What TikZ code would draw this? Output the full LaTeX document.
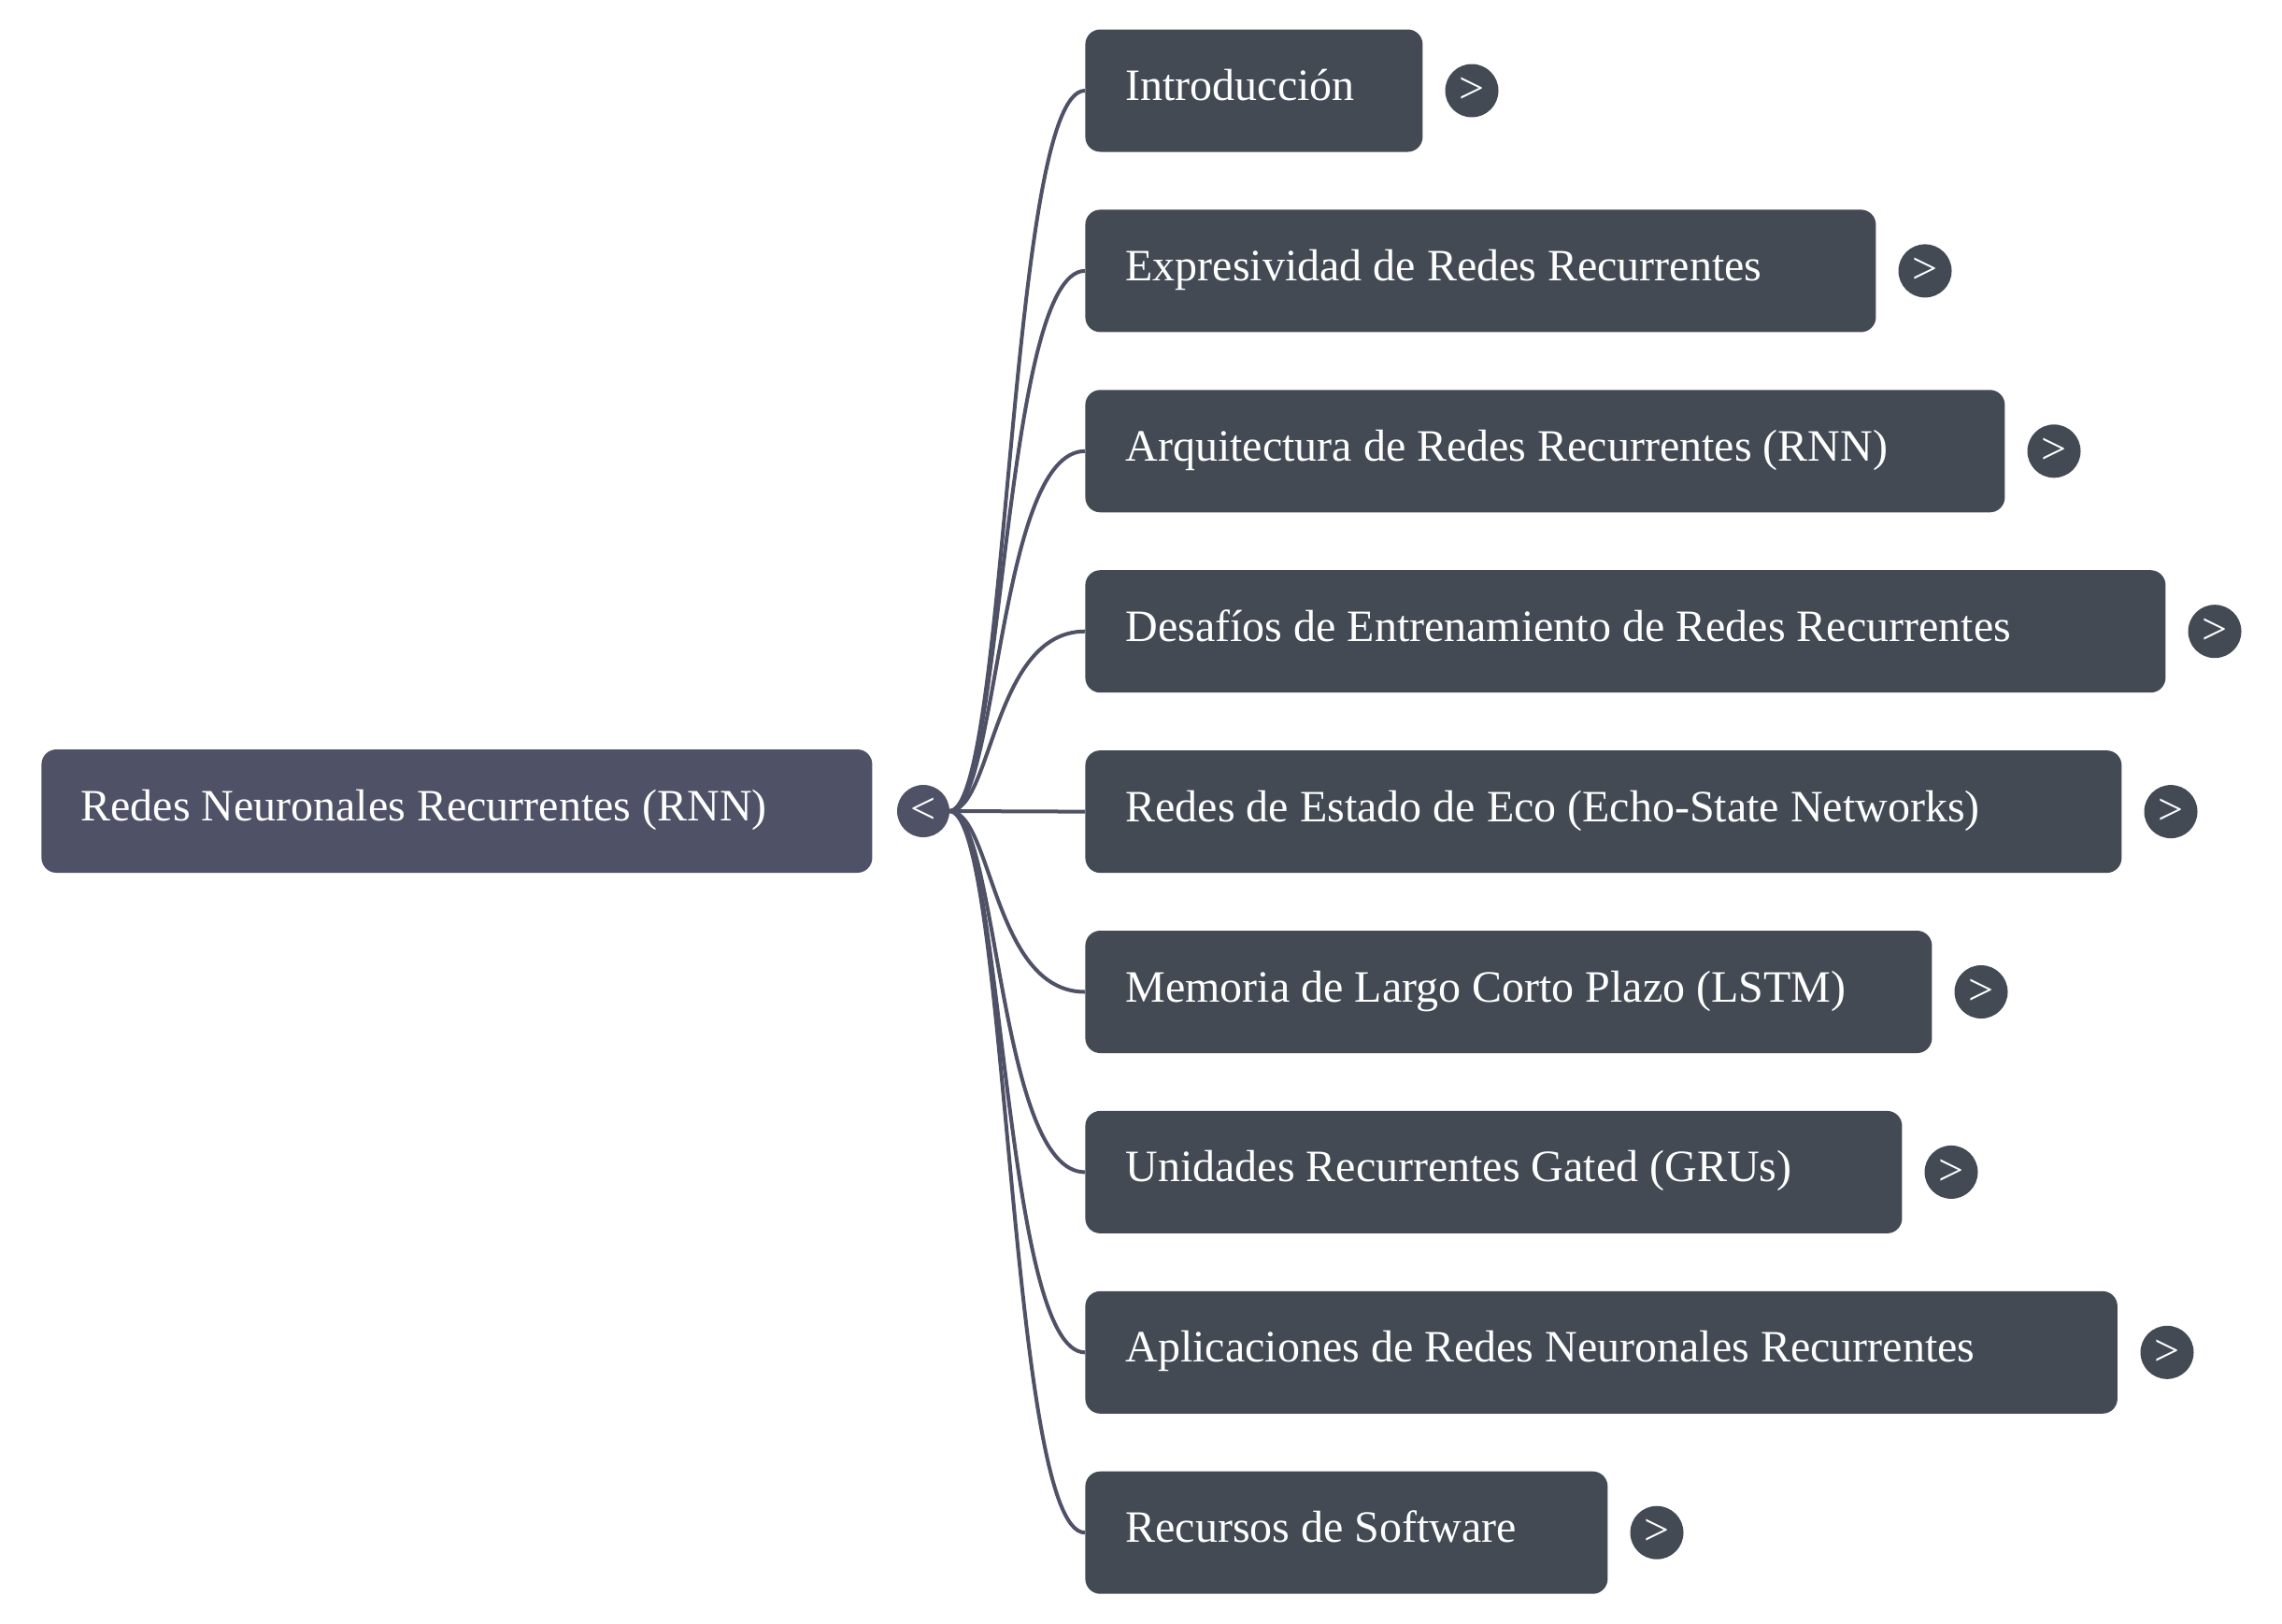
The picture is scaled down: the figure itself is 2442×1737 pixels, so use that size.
\documentclass[tikz,border=0pt]{standalone}
\usepackage{fontspec}
\setmainfont{Liberation Serif}
\definecolor{rootc}{HTML}{4F5266}
\definecolor{childc}{HTML}{434A54}
\tikzset{
  rootbox/.style={fill=rootc, rounded corners=8pt, anchor=west, inner xsep=21pt, inner ysep=0pt,
    minimum height=66pt, text height=16.5pt, text depth=6pt, align=flush left, text=white,
    font=\fontsize{24}{28}\selectfont},
  childbox/.style={fill=childc, rounded corners=8pt, anchor=west, inner xsep=21.5pt, inner ysep=0pt,
    minimum height=65.5pt, text height=16.5pt, text depth=6pt, align=flush left, text=white,
    font=\fontsize{24}{28}\selectfont},
  togglec/.style={circle, fill=childc, minimum size=28.5pt, inner sep=0pt, text=white,
    font=\fontsize{24}{28}\selectfont},
  roottoggle/.style={circle, fill=rootc, minimum size=28pt, inner sep=0pt, text=white,
    font=\fontsize{24}{28}\selectfont},
  conn/.style={draw=rootc, line width=2pt},
}
\begin{document}
\begin{tikzpicture}[x=0.5pt, y=-0.5pt]
\useasboundingbox (0,0) rectangle (2442,1737);

% root
\node[rootbox, text width=402.5pt] (root) at (44,868) {Redes Neuronales Recurrentes (RNN)};

% children
\node[childbox, text width=137.5pt] (c1) at (1161,97)   {Introducción};
\node[childbox, text width=380pt]   (c2) at (1161,289.9) {Expresividad de Redes Recurrentes};
\node[childbox, text width=449pt]   (c3) at (1161,482.8) {Arquitectura de Redes Recurrentes (RNN)};
\node[childbox, text width=535pt]   (c4) at (1161,675.7) {Desafíos de Entrenamiento de Redes Recurrentes};
\node[childbox, text width=511.5pt] (c5) at (1161,868.6) {Redes de Estado de Eco (Echo-State Networks)};
\node[childbox, text width=410pt]   (c6) at (1161,1061.5) {Memoria de Largo Corto Plazo (LSTM)};
\node[childbox, text width=394pt]   (c7) at (1161,1254.4) {Unidades Recurrentes Gated (GRUs)};
\node[childbox, text width=509.25pt] (c8) at (1161,1447.3) {Aplicaciones de Redes Neuronales Recurrentes};
\node[childbox, text width=236.5pt] (c9) at (1161,1640.2) {Recursos de Software};

% connectors (drawn before the root toggle so it covers their start)
\coordinate (hub) at (1016,868);
\draw[conn] (hub) .. controls +(63,0) and +(-82,0) .. (c1.west);
\draw[conn] (hub) .. controls +(57,0) and +(-88,0) .. (c2.west);
\draw[conn] (hub) .. controls +(52,0) and +(-93,0) .. (c3.west);
\draw[conn] (hub) .. controls +(46,0) and +(-99,0) .. (c4.west);
\draw[conn] (hub) -- (c5.west);
\draw[conn] (hub) .. controls +(46,0) and +(-99,0) .. (c6.west);
\draw[conn] (hub) .. controls +(52,0) and +(-93,0) .. (c7.west);
\draw[conn] (hub) .. controls +(57,0) and +(-88,0) .. (c8.west);
\draw[conn] (hub) .. controls +(63,0) and +(-82,0) .. (c9.west);

% root toggle
\node[roottoggle] (rt) at (988,868) {<};

% child toggles
\node[togglec] (t1) at (1575,97)    {>};
\node[togglec] (t2) at (2060,289.9) {>};
\node[togglec] (t3) at (2198,482.8) {>};
\node[togglec] (t4) at (2370,675.7) {>};
\node[togglec] (t5) at (2323,868.6) {>};
\node[togglec] (t6) at (2120,1061.5) {>};
\node[togglec] (t7) at (2088,1254.4) {>};
\node[togglec] (t8) at (2319,1447.3) {>};
\node[togglec] (t9) at (1773,1640.2) {>};
\end{tikzpicture}
\end{document}
